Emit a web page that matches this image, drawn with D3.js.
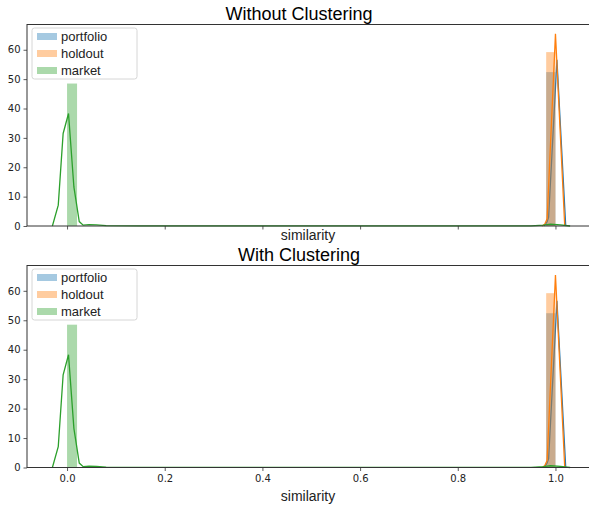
<!DOCTYPE html>
<html>
<head>
<meta charset="utf-8">
<script src="https://cdn.jsdelivr.net/npm/d3@7"></script>
<style>
  body { margin: 0; background: #fff; overflow: hidden; }
  svg { display: block; }
</style>
</head>
<body>
<div id="chart"></div>
<script>
const panelTitles = ["Without Clustering", "With Clustering"];
const seriesNames = ["portfolio", "holdout", "market"];
const seriesColors = ["#1f77b4", "#ff7f0e", "#2ca02c"];
const xTicks = [0.0, 0.2, 0.4, 0.6, 0.8, 1.0];
const yTicks = [0, 10, 20, 30, 40, 50, 60];

// histogram bins: [start, end, density]
const portfolioBins = [[0.981, 1.0, 52.4]];
const holdoutBins = [[0.981, 1.0, 59.2]];
const marketBins = [[0.0, 0.0205, 48.5]];

// kde curves: [x, density]
const portfolioKde = [[0.977, 0], [0.983, 1.5], [0.986, 3], [1.003, 56.6], [1.021, 0]];
const holdoutKde = [[0.972, 0], [0.978, 0.6], [0.983, 2.5], [1.0, 65.4], [1.019, 0]];
const marketKde = [[-0.030, 0], [-0.018, 7.1], [-0.008, 31.5], [0.003, 38.3], [0.014, 13.3],
  [0.025, 1.5], [0.033, 0.3], [0.045, 0.5], [0.06, 0.4], [0.08, 0.15], [0.15, 0.06],
  [0.4, 0.04], [0.7, 0.04], [0.95, 0.05], [0.975, 0.3], [0.99, 0.6], [1.01, 0.4], [1.03, 0]];

const binsBySeries = [portfolioBins, holdoutBins, marketBins];
const kdeBySeries = [portfolioKde, holdoutKde, marketKde];

const W = 589, H = 507;
const left = 27, right = 596;
const panels = [{top: 24.5, bottom: 226}, {top: 265.5, bottom: 467.5}];

const svg = d3.select("#chart").append("svg")
  .attr("width", W).attr("height", H);

const x = d3.scaleLinear().domain([-0.082, 1.083]).range([left, right]);

panels.forEach((p, pi) => {
  const y = d3.scaleLinear().domain([0, 68.6]).range([p.bottom, p.top]);
  const g = svg.append("g");

  // title
  g.append("text")
    .attr("x", 299)
    .attr("y", p.top - 4.5)
    .attr("text-anchor", "middle")
    .style("font-family", "Liberation Sans, Arial, sans-serif")
    .style("font-size", "18px")
    .attr("fill", "#000")
    .text(panelTitles[pi]);

  // marks: hist then kde for each series
  seriesNames.forEach((name, si) => {
    g.selectAll(null)
      .data(binsBySeries[si])
      .enter()
      .append("rect")
        .attr("x", d => x(d[0]))
        .attr("y", d => y(d[2]))
        .attr("width", d => x(d[1]) - x(d[0]))
        .attr("height", d => y(0) - y(d[2]))
        .attr("fill", seriesColors[si])
        .attr("fill-opacity", 0.4);

    g.append("path")
      .datum(kdeBySeries[si])
      .attr("d", d3.line().x(d => x(d[0])).y(d => y(d[1])))
      .attr("fill", "none")
      .attr("stroke", seriesColors[si])
      .attr("stroke-width", 1.3);
  });

  // axes
  const xAxis = d3.axisBottom(x).tickValues(xTicks).tickSize(3.5).tickPadding(4)
    .tickFormat(pi === 1 ? d3.format(".1f") : () => "");
  const xg = g.append("g").attr("transform", `translate(0,${p.bottom})`).call(xAxis);
  const yAxis = d3.axisLeft(y).tickValues(yTicks).tickSize(3.5).tickPadding(3);
  const yg = g.append("g").attr("transform", `translate(${left},0)`).call(yAxis);
  [xg, yg].forEach(a => {
    a.select(".domain").remove();
    a.selectAll("line").attr("stroke", "#333").attr("stroke-width", 0.8);
    a.selectAll("text")
      .style("font-family", "DejaVu Sans, sans-serif")
      .style("font-size", "10px")
      .attr("fill", "#222");
  });

  // frame
  g.append("rect")
    .attr("x", left).attr("y", p.top)
    .attr("width", right - left).attr("height", p.bottom - p.top)
    .attr("fill", "none").attr("stroke", "#333").attr("stroke-width", 1);

  // x label
  g.append("text")
    .attr("x", 308)
    .attr("y", pi === 0 ? 240 : 501)
    .attr("text-anchor", "middle")
    .style("font-family", "Liberation Sans, Arial, sans-serif")
    .style("font-size", "14px")
    .attr("fill", "#222")
    .text("similarity");

  // legend
  const lg = g.append("g").attr("transform", `translate(${left + 5},${p.top + 3.5})`);
  lg.append("rect")
    .attr("width", 105).attr("height", 51).attr("rx", 2.5)
    .attr("fill", "#fff").attr("fill-opacity", 0.8)
    .attr("stroke", "#ccc").attr("stroke-width", 0.8);
  seriesNames.forEach((name, si) => {
    const row = lg.append("g").attr("transform", `translate(5,${8.5 + si * 17})`);
    row.append("rect")
      .attr("x", 0).attr("y", -3.5).attr("width", 20).attr("height", 7)
      .attr("fill", seriesColors[si]).attr("fill-opacity", 0.4);
    row.append("text")
      .attr("x", 24).attr("y", 4.5)
      .style("font-family", "Liberation Sans, Arial, sans-serif")
      .style("font-size", "13px")
      .attr("fill", "#222")
      .text(name);
  });
});
</script>
</body>
</html>
